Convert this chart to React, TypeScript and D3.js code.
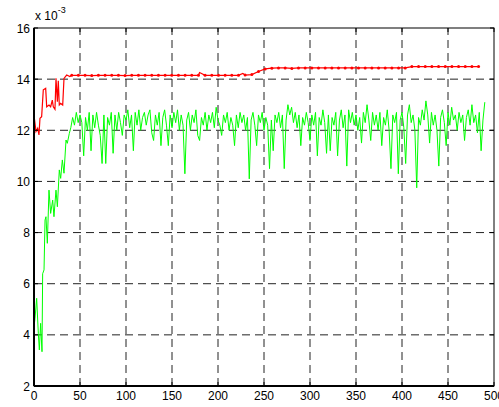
import React from 'react';
import * as d3 from 'd3';

const xTicks = [0, 50, 100, 150, 200, 250, 300, 350, 400, 450, 500];
const yTicks = [2, 4, 6, 8, 10, 12, 14, 16];

// red: detailed start, marked points, small spikes between markers
const redEarly: [number, number][] = [
  [0.4, 12.47], [2.2, 11.95], [4, 12.08], [5.4, 11.82], [6.5, 12.47], [8.3, 12.53],
  [10.1, 13.58], [12.7, 13.64], [13.8, 12.92], [16.3, 12.99], [18.1, 12.92], [19.9, 13.18],
  [21, 12.92], [22.8, 12.82], [23.9, 14.03], [25.4, 13.12], [26.4, 13.94], [27.5, 12.99],
  [29, 13.05], [31.2, 12.99], [32.6, 14.03], [35.5, 14.16], [39, 14.1]
];
const redMarkerStart = 41;
const redMarkerStep = 7.25;
const redMarkerValues = [
  14.15, 14.15, 14.15, 14.14, 14.15, 14.15, 14.15, 14.15, 14.14, 14.15,
  14.15, 14.15, 14.15, 14.15, 14.15, 14.15, 14.15, 14.15, 14.15, 14.15,
  14.15, 14.15, 14.15, 14.15, 14.15, 14.15, 14.16, 14.18, 14.3, 14.4,
  14.43, 14.44, 14.44, 14.42, 14.44, 14.44, 14.44, 14.44, 14.44, 14.44,
  14.44, 14.44, 14.44, 14.44, 14.44, 14.44, 14.44, 14.44, 14.44, 14.44,
  14.44, 14.49, 14.49, 14.49, 14.49, 14.49, 14.49, 14.49, 14.49, 14.49,
  14.49, 14.49
];
const redSpikes: [number, number][] = [[180, 14.26], [227, 14.22]];

// green: detailed start, then values every 2 units from 40
const greenEarly: [number, number][] = [
  [0, 4.3], [1.1, 4.65], [2.9, 5.43], [4.7, 4.06], [5.8, 3.41], [7.2, 4.45], [8.7, 3.34],
  [9.4, 6.39], [10.9, 6.54], [12, 8.49], [13, 8.62], [14.5, 7.58], [16.3, 9.66], [18.1, 8.75],
  [20.3, 9.27], [21.7, 8.62], [23.9, 9.66], [25.4, 9.01], [27.5, 10.45], [29, 10.12],
  [30.8, 10.84], [32.6, 10.32], [34.8, 11.62], [36.2, 11.49], [38.4, 11.88]
];
const greenStart = 40;
const greenStep = 2;
const greenValues = [
  12.1, 12.5, 12.2, 12.7, 12.3, 12.6, 12.3, 11.0, 12.5, 12.0,
  12.7, 11.2, 12.6, 12.1, 12.7, 12.2, 11.8, 10.7, 12.6, 10.7,
  12.5, 12.2, 12.7, 11.1, 12.6, 12.0, 12.7, 12.3, 11.8, 12.6,
  12.4, 12.8, 12.1, 12.6, 11.2, 12.7, 12.2, 12.8, 12.0, 12.5,
  12.7, 12.2, 12.6, 12.8, 11.9, 11.6, 12.6, 12.2, 12.7, 11.4,
  12.5, 12.8, 12.2, 11.4, 12.6, 12.1, 12.7, 12.3, 12.8, 12.0,
  12.6, 12.2, 10.3, 12.4, 12.7, 12.0, 12.6, 12.3, 12.8, 11.8,
  11.6, 12.5, 12.2, 12.7, 12.0, 12.6, 12.3, 12.7, 12.1, 12.9,
  12.4, 12.2, 11.8, 12.6, 12.3, 12.7, 12.0, 12.5, 12.2, 11.4,
  12.6, 12.1, 12.7, 12.3, 12.6, 12.0, 12.5, 10.1, 12.4, 12.7,
  12.2, 11.4, 12.6, 12.3, 12.7, 12.0, 12.5, 12.2, 10.5, 12.4,
  11.2, 12.6, 12.3, 12.7, 12.1, 12.6, 10.5, 12.4, 13.0, 12.6,
  12.9, 12.3, 12.7, 12.1, 12.6, 11.4, 12.5, 12.2, 12.7, 12.3,
  11.6, 12.6, 12.2, 12.7, 11.0, 12.5, 12.2, 12.8, 12.3, 11.1,
  12.6, 11.2, 12.5, 12.2, 12.7, 11.0, 12.4, 12.8, 12.1, 12.6,
  10.6, 12.8, 12.3, 12.7, 12.2, 12.6, 12.0, 12.5, 11.5, 12.7,
  12.3, 13.0, 12.4, 11.6, 12.7, 12.2, 12.6, 12.0, 12.7, 11.4,
  12.5, 12.2, 12.8, 12.0, 10.5, 12.6, 12.3, 12.7, 10.3, 12.4,
  12.7, 12.1, 10.7, 12.6, 13.0, 12.3, 12.6, 12.0, 9.75, 12.5,
  12.2, 12.8, 12.4, 13.15, 12.6, 11.5, 12.7, 12.2, 12.6, 12.0,
  10.6, 12.5, 12.8, 12.3, 11.4, 12.7, 12.2, 12.9, 12.4, 12.6,
  12.0, 12.7, 12.3, 12.6, 11.6, 12.5, 12.8, 12.2, 13.0, 12.3,
  12.6, 11.9, 12.7, 11.2, 12.4, 13.1
];

const width = 499;
const height = 407;
const margin = { top: 28, right: 5, bottom: 21, left: 34 };

export default function App() {
  const x = d3.scaleLinear().domain([0, 500]).range([margin.left, width - margin.right]);
  const y = d3.scaleLinear().domain([2, 16]).range([height - margin.bottom, margin.top]);

  const redMarkers: [number, number][] = redMarkerValues.map((v, i) => [redMarkerStart + i * redMarkerStep, v]);
  const redLine = [...redEarly, ...redMarkers, ...redSpikes].sort((a, b) => a[0] - b[0]);
  const green: [number, number][] = [
    ...greenEarly,
    ...greenValues.map((v, i) => [greenStart + i * greenStep, v] as [number, number])
  ];

  const line = d3.line<[number, number]>().x(d => x(d[0])).y(d => y(d[1]));

  const x0 = x(0), x1 = x(500), y0 = y(2), y1 = y(16);
  const font = '"Liberation Sans", Arial, sans-serif';

  return (
    <svg width={width} height={height} style={{ position: 'absolute', left: 0, top: 0, background: '#fff' }}>
      <rect x={0} y={0} width={width} height={height} fill="#fff" />
      {/* grid */}
      {xTicks.slice(1, -1).map(t => (
        <line key={'gx' + t} x1={x(t)} x2={x(t)} y1={y0} y2={y1} stroke="#222" strokeWidth={1} strokeDasharray="8,5" />
      ))}
      {yTicks.slice(1, -1).map(t => (
        <line key={'gy' + t} x1={x0} x2={x1} y1={y(t)} y2={y(t)} stroke="#222" strokeWidth={1} strokeDasharray="8,5" />
      ))}
      {/* series */}
      <path d={line(green) || ''} fill="none" stroke="#00ff00" strokeWidth={1} />
      <path d={line(redLine) || ''} fill="none" stroke="#ff0000" strokeWidth={1.2} />
      {redMarkers.map((d, i) => (
        <circle key={'m' + i} cx={x(d[0])} cy={y(d[1])} r={1.5} fill="#ff0000" />
      ))}
      {/* box */}
      <rect x={x0} y={y1} width={x1 - x0} height={y0 - y1} fill="none" stroke="#000" strokeWidth={1} />
      <line x1={x0} x2={x0} y1={y1} y2={y0} stroke="#000" strokeWidth={2} />
      <line x1={x0} x2={x1} y1={y0} y2={y0} stroke="#000" strokeWidth={2} />
      {/* ticks */}
      {xTicks.map(t => (
        <g key={'tx' + t}>
          <line x1={x(t)} x2={x(t)} y1={y0} y2={y0 - 4} stroke="#000" />
          <line x1={x(t)} x2={x(t)} y1={y1} y2={y1 + 4} stroke="#000" />
          <text x={x(t)} y={y0 + 14} fontSize={12} fontFamily={font} textAnchor="middle" fill="#000">{t}</text>
        </g>
      ))}
      {yTicks.map(t => (
        <g key={'ty' + t}>
          <line x1={x0} x2={x0 + 4} y1={y(t)} y2={y(t)} stroke="#000" />
          <line x1={x1} x2={x1 - 4} y1={y(t)} y2={y(t)} stroke="#000" />
          <text x={x0 - 4} y={y(t) + 4.5} fontSize={12} fontFamily={font} textAnchor="end" fill="#000">{t}</text>
        </g>
      ))}
      <text x={35} y={20} fontSize={12} fontFamily={font} fill="#000">
        x 10<tspan dy={-7} fontSize={9}>-3</tspan>
      </text>
    </svg>
  );
}
